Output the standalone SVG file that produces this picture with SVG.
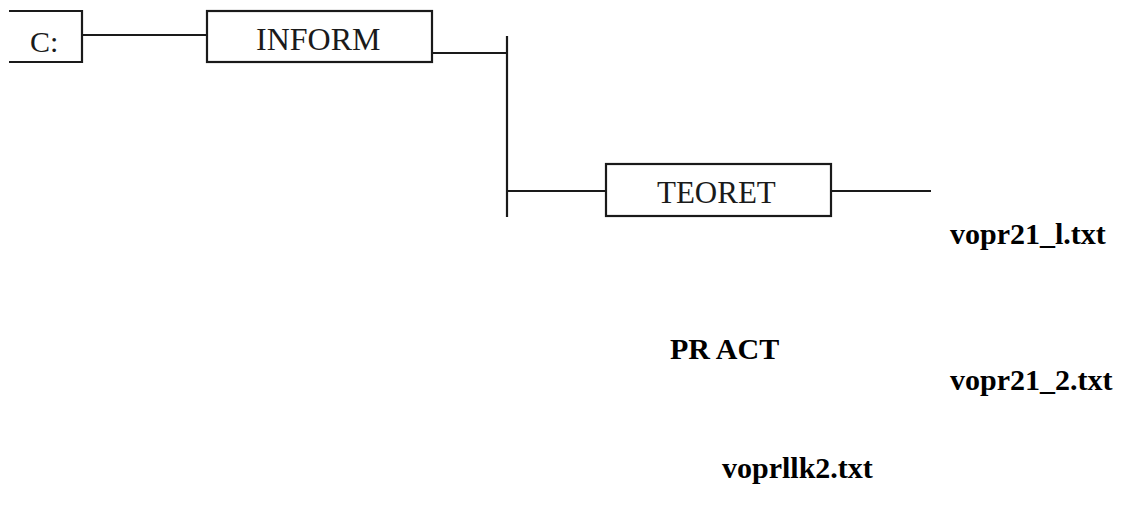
<svg xmlns="http://www.w3.org/2000/svg" width="1123" height="515" viewBox="0 0 1123 515">
<style>
.box{fill:#fff;stroke:#1a1a1a;stroke-width:2.2}
.ln{stroke:#1a1a1a;stroke-width:2.2;fill:none}
.lbl{font-family:"Liberation Serif","Times New Roman",serif;fill:#1a1a1a}
.b{font-family:"Liberation Serif","Times New Roman",serif;font-weight:bold;font-size:30px;fill:#000}
</style>
<rect width="1123" height="515" fill="#fff"/>
<g id="connectors">
<line class="ln" x1="82" y1="35" x2="207" y2="35"/>
<line class="ln" x1="432" y1="53" x2="507" y2="53"/>
<line class="ln" x1="507" y1="36" x2="507" y2="217"/>
<line class="ln" x1="507" y1="191" x2="606" y2="191"/>
<line class="ln" x1="831" y1="191" x2="931" y2="191"/>
</g>
<g id="node-c">
<path class="ln" d="M9,11 H82 V62 H9"/>
<text class="lbl" x="30" y="52" font-size="30">C:</text>
</g>
<g id="node-inform">
<rect class="box" x="207" y="11" width="225" height="51"/>
<text class="lbl" x="256" y="50" font-size="32">INFORM</text>
</g>
<g id="node-teoret">
<rect class="box" x="606" y="164" width="225" height="52"/>
<text class="lbl" x="657" y="203" font-size="31">TEORET</text>
</g>
<g id="labels">
<text class="b" x="950" y="244" font-size="31">vopr21_l.txt</text>
<text class="b" x="670" y="359">PR ACT</text>
<text class="b" x="950" y="390">vopr21_2.txt</text>
<text class="b" x="722" y="478">voprllk2.txt</text>
</g>
</svg>
